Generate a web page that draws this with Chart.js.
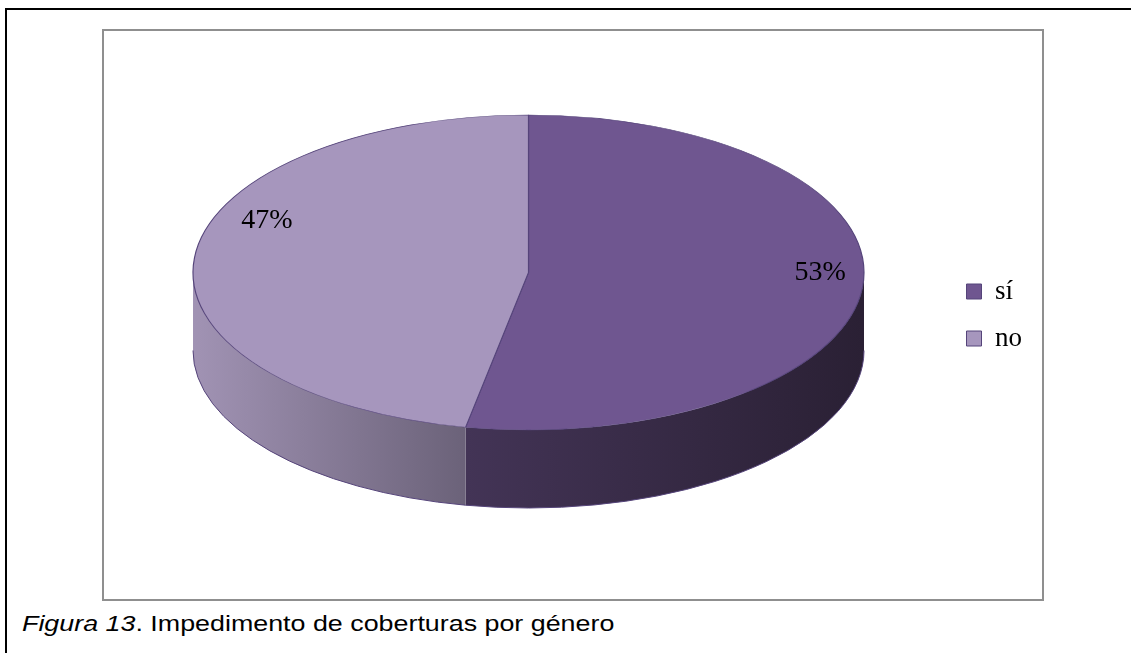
<!DOCTYPE html>
<html>
<head>
<meta charset="utf-8">
<script src="https://cdn.jsdelivr.net/npm/chart.js@4/dist/chart.umd.min.js"></script>
<style>
  body { margin: 0; background: #fff; width: 1131px; height: 653px; overflow: hidden; position: relative; }
  #marco { position: absolute; left: 5px; top: 8px; width: 1200px; height: 700px; border-left: 2px solid #000; border-top: 2px solid #000; }
  #caja { position: absolute; left: 102px; top: 29px; width: 942px; height: 572px; box-sizing: border-box; border: 2px solid #8f8f8f; }
  #grafico { position: absolute; left: 0; top: 0; }
  #pie { position: absolute; left: 22px; top: 613px; font-family: "Liberation Sans", Arial, sans-serif; font-size: 22px; line-height: 22px; color: #000; white-space: nowrap; transform: scaleX(1.22); transform-origin: left top; }
</style>
</head>
<body>
<div id="marco"></div>
<div id="caja"><canvas id="grafico" width="938" height="568"></canvas></div>
<div id="pie"><i>Figura 13</i>. Impedimento de coberturas por género</div>
<script>
// datos
var categorias = ['sí', 'no'];
var valores = [53, 47];

// colores
var colorTapa = ['#6f5690', '#a696bd'];
var colorLado = [['#433456', '#2a2034'], ['#a193b4', '#6b6279']];
var colorBorde = '#55447a';

// elipse 3D (en px del canvas)
var CX = 424.5, CY = 241.5, RX = 335.5, RY = 157.5, ALTO = 78;
var LABEL_R = 0.84;
var ajusteEtiqueta = [[11, -12], [19, -39]];

function lados(chart) {
  var ctx = chart.ctx;
  var arcs = chart.getDatasetMeta(0).data;
  arcs.forEach(function(arc, i) {
    var a0 = Math.max(arc.startAngle, 0);
    var a1 = Math.min(arc.endAngle, Math.PI);
    if (a1 <= a0) return;
    var xa = CX + RX * Math.cos(a0), xb = CX + RX * Math.cos(a1);
    var g = ctx.createLinearGradient(Math.min(xa, xb), 0, Math.max(xa, xb), 0);
    g.addColorStop(0, colorLado[i][0]);
    g.addColorStop(1, colorLado[i][1]);
    ctx.save();
    ctx.beginPath();
    ctx.ellipse(CX, CY, RX, RY, 0, a0, a1);
    ctx.ellipse(CX, CY + ALTO, RX, RY, 0, a1, a0, true);
    ctx.closePath();
    ctx.fillStyle = g;
    ctx.fill();
    ctx.beginPath();
    ctx.ellipse(CX, CY + ALTO, RX, RY, 0, a0, a1);
    ctx.strokeStyle = colorBorde;
    ctx.lineWidth = 1;
    ctx.stroke();
    ctx.restore();
  });
}

var tercerD = {
  id: 'tercerD',
  beforeDatasetsDraw: function(chart) {
    lados(chart);
    var arc = chart.getDatasetMeta(0).data[0];
    var r = arc.outerRadius;
    var ctx = chart.ctx;
    ctx.save();
    ctx.translate(CX, CY);
    ctx.scale(RX / r, RY / r);
    ctx.translate(-arc.x, -arc.y);
  },
  afterDatasetsDraw: function(chart) {
    chart.ctx.restore();
  },
  afterDraw: function(chart) {
    var ctx = chart.ctx;
    var total = valores.reduce(function(a, b) { return a + b; }, 0);
    ctx.save();
    ctx.font = '28px "Liberation Serif", serif';
    ctx.fillStyle = '#000';
    ctx.textAlign = 'center';
    ctx.textBaseline = 'middle';
    chart.getDatasetMeta(0).data.forEach(function(arc, i) {
      var mid = (arc.startAngle + arc.endAngle) / 2;
      var x = CX + RX * LABEL_R * Math.cos(mid) + ajusteEtiqueta[i][0];
      var y = CY + RY * LABEL_R * Math.sin(mid) + ajusteEtiqueta[i][1];
      ctx.fillText(Math.round(valores[i] / total * 100) + '%', x, y);
    });
    ctx.restore();
  }
};

new Chart(document.getElementById('grafico'), {
  type: 'pie',
  data: {
    labels: categorias,
    datasets: [{
      data: valores,
      backgroundColor: colorTapa,
      borderColor: colorBorde,
      borderWidth: 1
    }]
  },
  options: {
    responsive: false,
    animation: false,
    devicePixelRatio: 1,
    layout: { padding: { right: 10 } },
    plugins: {
      legend: {
        position: 'right',
        labels: {
          boxWidth: 15,
          boxHeight: 15,
          padding: 20,
          color: '#000',
          font: { family: 'Liberation Serif', size: 27 }
        }
      },
      tooltip: { enabled: false }
    }
  },
  plugins: [tercerD]
});
</script>
</body>
</html>
